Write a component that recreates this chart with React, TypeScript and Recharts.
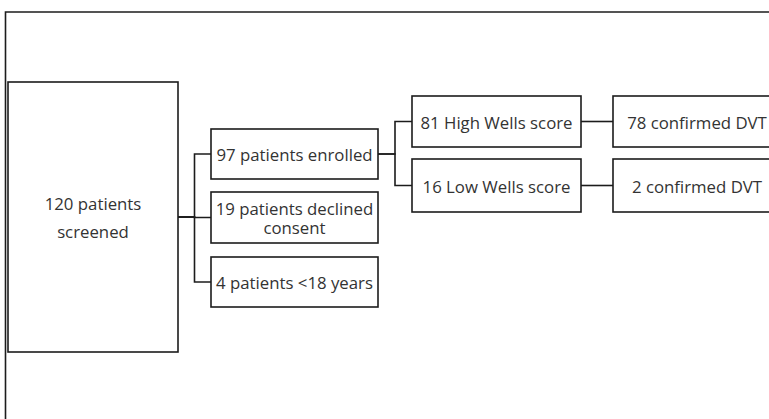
import React from 'react';
import { ScatterChart, Scatter, XAxis, YAxis } from 'recharts';

// ---- data ----
const nodeLabels: string[] = [
  '120 patients\nscreened',
  '97 patients enrolled',
  '19 patients declined\nconsent',
  '4 patients <18 years',
  '81 High Wells score',
  '16 Low Wells score',
  '78 confirmed DVT',
  '2 confirmed DVT',
];
const links: [number, number][] = [
  [0, 1], [0, 2], [0, 3],
  [1, 4], [1, 5],
  [4, 6], [5, 7],
];

// ---- layout (pixel units of the 1:1 axes) ----
const W = 769;
const H = 419;
const boxLayout = [
  { x0: 8, x1: 178, y0: 82, y1: 352, lh: 28 },
  { x0: 211, x1: 378, y0: 129, y1: 179, lh: 19 },
  { x0: 211, x1: 378, y0: 192, y1: 243, lh: 19 },
  { x0: 211, x1: 378, y0: 257, y1: 307, lh: 19 },
  { x0: 412, x1: 581, y0: 96, y1: 147, lh: 19 },
  { x0: 412, x1: 581, y0: 159, y1: 212, lh: 19 },
  { x0: 613, x1: 781, y0: 96, y1: 147, lh: 19 },
  { x0: 613, x1: 781, y0: 159, y1: 212, lh: 19 },
];
const frame = { x: 5.5, y: 12 };

const STROKE = '#1c1c1c';
const TEXT = '#333333';
const FONT = '"Open Sans", "Noto Sans", sans-serif';

const nodes = nodeLabels.map((label, i) => {
  const b = boxLayout[i];
  return {
    x: (b.x0 + b.x1) / 2,
    y: (b.y0 + b.y1) / 2,
    w: b.x1 - b.x0,
    h: b.y1 - b.y0,
    lh: b.lh,
    label,
  };
});

const connectors = links.map(([s, t]) => {
  const a = boxLayout[s];
  const b = boxLayout[t];
  const sy = (a.y0 + a.y1) / 2;
  const ty = (b.y0 + b.y1) / 2;
  const bus = (a.x1 + b.x0) / 2;
  return [
    { x: a.x1, y: sy },
    { x: bus, y: sy },
    { x: bus, y: ty },
    { x: b.x0, y: ty },
  ];
});

const framePts = [
  { x: frame.x, y: H + 5 },
  { x: frame.x, y: frame.y },
  { x: W + 5, y: frame.y },
];

const NodeShape = (props: any) => {
  const { cx, cy, payload } = props;
  if (cx == null || cy == null) return null;
  const lines: string[] = payload.label.split('\n');
  const n = lines.length;
  return (
    <g>
      <rect
        x={cx - payload.w / 2}
        y={cy - payload.h / 2}
        width={payload.w}
        height={payload.h}
        fill="#fff"
        stroke={STROKE}
        strokeWidth={1.6}
      />
      <text
        x={cx}
        y={cy - ((n - 1) / 2) * payload.lh}
        textAnchor="middle"
        dominantBaseline="central"
        fontFamily={FONT}
        fontSize={16.8}
        fill={TEXT}
      >
        {lines.map((ln, k) => (
          <tspan key={k} x={cx} dy={k === 0 ? 0 : payload.lh}>
            {ln}
          </tspan>
        ))}
      </text>
    </g>
  );
};

const NoShape = () => null;

export default function App() {
  return (
    <div style={{ position: 'absolute', left: 0, top: 0, background: '#fff' }}>
      <ScatterChart width={W} height={H} margin={{ top: 0, right: 0, bottom: 0, left: 0 }}>
        <XAxis type="number" dataKey="x" domain={[0, W]} hide allowDataOverflow />
        <YAxis type="number" dataKey="y" domain={[0, H]} reversed hide allowDataOverflow />
        <Scatter
          data={framePts}
          line={{ stroke: STROKE, strokeWidth: 1.6 }}
          shape={NoShape}
          isAnimationActive={false}
        />
        {connectors.map((pts, i) => (
          <Scatter
            key={`c${i}`}
            data={pts}
            line={{ stroke: STROKE, strokeWidth: 1.6 }}
            shape={NoShape}
            isAnimationActive={false}
          />
        ))}
        <Scatter data={nodes} shape={NodeShape} isAnimationActive={false} />
      </ScatterChart>
    </div>
  );
}
